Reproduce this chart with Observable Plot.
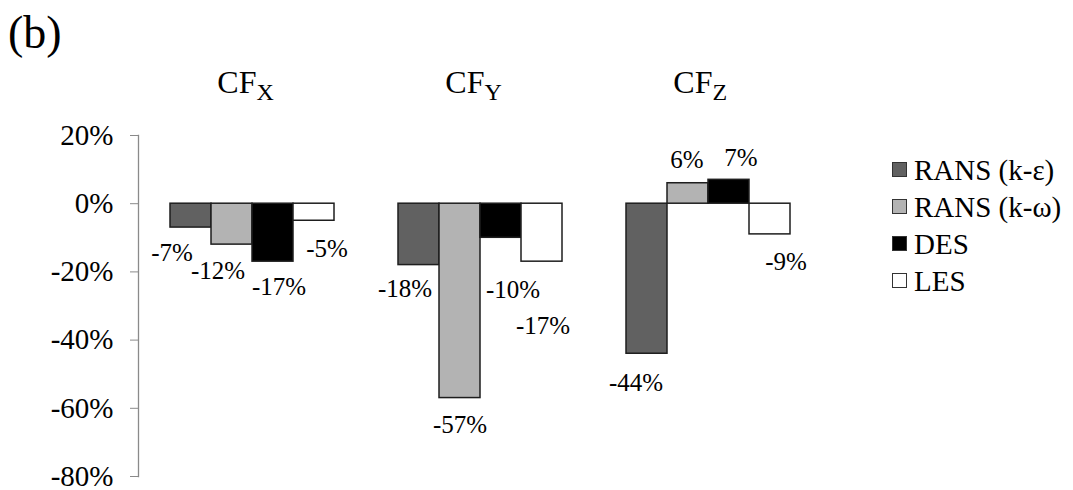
<!DOCTYPE html>
<html>
<head>
<meta charset="utf-8">
<script src="https://cdn.jsdelivr.net/npm/d3@7"></script>
<script src="https://cdn.jsdelivr.net/npm/@observablehq/plot@0.6"></script>
<style>
  body { margin: 0; background: #fff; }
  #wrap { position: relative; width: 1073px; height: 490px; font-family: "Liberation Serif", "Times New Roman", serif; color: #000; }
  #chart svg text { font-family: "Liberation Serif", "Times New Roman", serif; font-variant-numeric: normal; }
  #chart svg g[aria-label="y-axis tick label"] text { font-size: 29px; }
  #panel { position: absolute; left: 8px; top: 10px; font-size: 46px; line-height: 46px; }
  #legend { position: absolute; left: 892px; top: 152px; font-size: 29px; }
  #legend .row { display: flex; align-items: center; height: 37px; line-height: 37px; }
  #legend .sw { width: 13px; height: 13px; border: 1px solid #333; margin-right: 7px; margin-top: -3px; }
</style>
</head>
<body>
<div id="wrap">
  <div id="chart"></div>
  <div id="panel">(b)</div>
  <div id="legend"></div>
</div>
<script>
// Force coefficient components (subscript of CF)
const components = ["X", "Y", "Z"];
// Turbulence models compared
const models = ["RANS (k-ε)", "RANS (k-ω)", "DES", "LES"];
// Relative difference (%) per model, one list per component
const cfX = [-7, -12, -17, -5];
const cfY = [-18, -57, -10, -17];
const cfZ = [-44, 6, 7, -9];
// Y axis ticks (%)
const yTicks = [20, 0, -20, -40, -60, -80];

// Model fills
const modelColors = ["#616161", "#b3b3b3", "#000000", "#ffffff"];
// Hand placement of each value label, [dx, dy] in pixels from the bar end
const labelNudge = [
  [-19, 25], [-14, 26], [6, 25], [13, 28],
  [-14, 24], [0, 27], [12, 52], [1, 64],
  [-11, 29], [-1, -23], [12, -22], [16, 28]
];

const seriesByComponent = [cfX, cfY, cfZ];
const rows = [];
components.forEach((c, ci) => {
  models.forEach((m, mi) => {
    rows.push({comp: c, model: m, value: seriesByComponent[ci][mi]});
  });
});

const valueLabels = rows.map((d, i) => Plot.text([d], {
  fx: "comp", x: "model", y: "value",
  text: r => r.value + "%",
  fontSize: 25,
  fill: "#000",
  dx: labelNudge[i][0],
  dy: labelNudge[i][1]
}));

const chart = Plot.plot({
  width: 1073,
  height: 490,
  marginLeft: 138,
  marginRight: 251,
  marginTop: 135,
  marginBottom: 14,
  style: {fontFamily: "'Liberation Serif', 'Times New Roman', serif", fontSize: "29px", color: "#000", background: "transparent", overflow: "visible"},
  fx: {domain: components, padding: 0, axis: null, label: null},
  x: {domain: models, paddingInner: 0, paddingOuter: 0.747, axis: null, label: null},
  y: {domain: [-80, 20], axis: null, label: null},
  color: {domain: models, range: modelColors},
  marks: [
    Plot.frame({anchor: "left", facetAnchor: "left", stroke: "#8a8a8a", strokeWidth: 1.3}),
    Plot.axisY({
      ticks: yTicks,
      tickFormat: d => d + "%",
      tickSize: 8,
      tickPadding: 17,
      stroke: "#8a8a8a",
      fill: "#000",
      fontSize: 29,
      label: null
    }),
    Plot.barY(rows, {
      fx: "comp", x: "model", y: "value",
      fill: "model",
      stroke: "#1e1e1e",
      strokeWidth: 1.5,
      inset: 0
    }),
    ...valueLabels,
    // Component titles: "CF" with a subscript letter
    Plot.text(components, {
      fx: d => d, text: () => "CF",
      frameAnchor: "top", textAnchor: "end", lineAnchor: "bottom",
      dx: 4, dy: -43, fontSize: 32, fill: "#000"
    }),
    Plot.text(components, {
      fx: d => d, text: d => d,
      frameAnchor: "top", textAnchor: "start", lineAnchor: "bottom",
      dx: 4, dy: -36, fontSize: 24, fill: "#000"
    })
  ]
});
document.getElementById("chart").appendChild(chart);

// Legend
const legend = d3.select("#legend");
models.forEach((m, i) => {
  const row = legend.append("div").attr("class", "row");
  row.append("div").attr("class", "sw").style("background", modelColors[i]);
  row.append("span").text(m);
});
</script>
</body>
</html>
